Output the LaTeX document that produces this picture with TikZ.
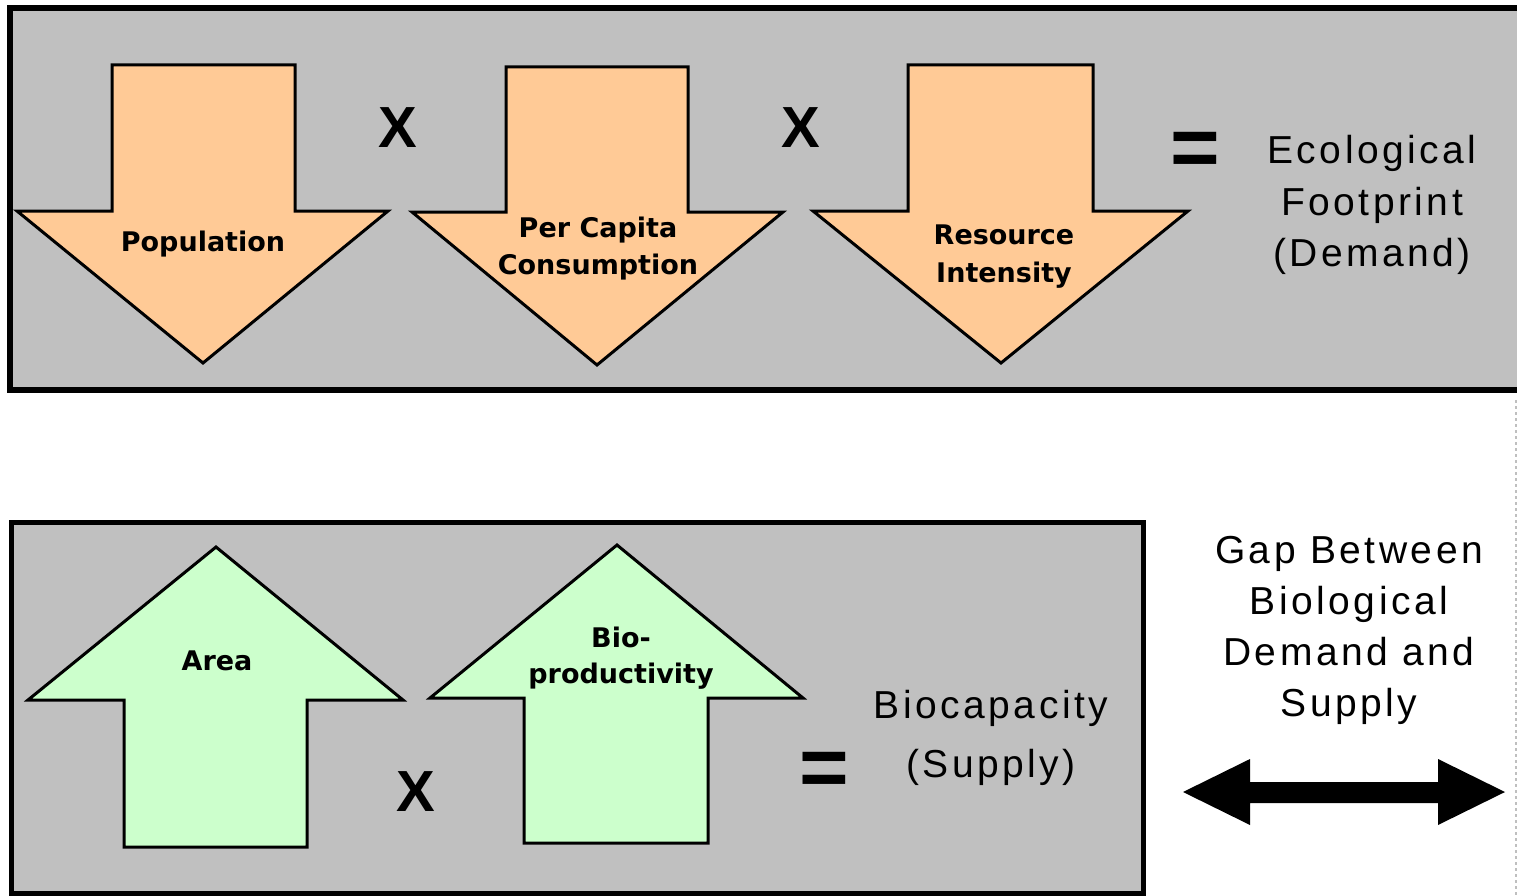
\documentclass[tikz,border=0pt]{standalone}
\usepackage{fontspec}
\setmainfont{Liberation Sans}
\newfontfamily\lblfont{DejaVu Sans}
\newfontfamily\bigfont{Liberation Sans}[LetterSpace=9]
\definecolor{boxgray}{HTML}{C0C0C0}
\definecolor{orangefill}{HTML}{FFCA96}
\definecolor{greenfill}{HTML}{CCFFCC}
\tikzset{
  panel/.style={draw=black, line width=6pt, fill=boxgray},
  downarr/.style={draw=black, line width=3pt, fill=orangefill, line join=miter},
  uparr/.style={draw=black, line width=3pt, fill=greenfill, line join=miter},
  lbl/.style={font=\lblfont\bfseries\fontsize{27}{37}\selectfont, anchor=base, inner sep=0pt},
  big/.style={font=\bigfont\fontsize{39}{51}\selectfont, anchor=base, inner sep=0pt},
  opx/.style={font=\bfseries\fontsize{58}{58}\selectfont, inner sep=0pt},
  opeq/.style={font=\bfseries\fontsize{85}{85}\selectfont, inner sep=0pt, anchor=base},
}
\begin{document}
\begin{tikzpicture}[x=1pt,y=-1pt]
\useasboundingbox (0,0) rectangle (1517,896);
\fill[white] (0,0) rectangle (1517,896);

% top panel
\draw[panel] (9.5,8.5) rectangle (1560,390);
% bottom panel
\draw[panel, line width=5pt] (11,522) rectangle (1143,893);

% faint dashed page edge
\draw[gray!50, dashed, line width=1.5pt] (1516,400) -- (1516,896);

% down arrows
\draw[downarr] (112,65) -- (295,65) -- (295,211) -- (388,211) -- (203,363) -- (17,211) -- (112,211) -- cycle;
\draw[downarr] (506,67) -- (688,67) -- (688,212) -- (783,212) -- (597,365) -- (412,212) -- (506,212) -- cycle;
\draw[downarr] (908,65) -- (1093,65) -- (1093,211) -- (1188,211) -- (1001,363) -- (813,211) -- (908,211) -- cycle;

% up arrows
\draw[uparr] (124,847) -- (307,847) -- (307,700) -- (403,700) -- (216,547) -- (28,700) -- (124,700) -- cycle;
\draw[uparr] (524,843) -- (708,843) -- (708,698) -- (803,698) -- (617,545) -- (430,698) -- (524,698) -- cycle;

% arrow labels
\node[lbl] (pop) at (203,251) {Population};
\node[lbl] (pc1) at (598,237) {Per Capita};
\node[lbl] (pc2) at (598,274) {Consumption};
\node[lbl] (ri1) at (1004,244) {Resource};
\node[lbl] (ri2) at (1004,282) {Intensity};
\node[lbl] (area) at (217,670) {Area};
\node[lbl] (bp1) at (621,647) {Bio-};
\node[lbl] (bp2) at (621,683) {productivity};

% operators
\node[opx] (x1) at (398,128) {X};
\node[opx] (x2) at (801,128) {X};
\node[opx] (x3) at (416,792) {X};
\node[opeq] (eq1) at (1195,177) {=};
\node[opeq] (eq2) at (824,796) {=};

% results
\node[big] (ef1) at (1372,164) {Ecological};
\node[big] (ef2) at (1372,215) {Footprint};
\node[big] (ef3) at (1372,266) {(Demand)};
\node[big] (bc1) at (991,718) {Biocapacity};
\node[big] (bc2) at (991,777) {(Supply)};
\node[big] (g1) at (1349,563) {Gap Between};
\node[big] (g2) at (1349,614) {Biological};
\node[big] (g3) at (1349,665) {Demand and};
\node[big] (g4) at (1349,716) {Supply};

% gap double arrow
\coordinate (gl) at (1183,792);
\coordinate (gr) at (1505,792);
\fill[black] (gl) -- (1250,759) -- (1250,782) -- (1438,782) -- (1438,759) -- (gr) -- (1438,825) -- (1438,803) -- (1250,803) -- (1250,825) -- cycle;
\end{tikzpicture}
\end{document}
